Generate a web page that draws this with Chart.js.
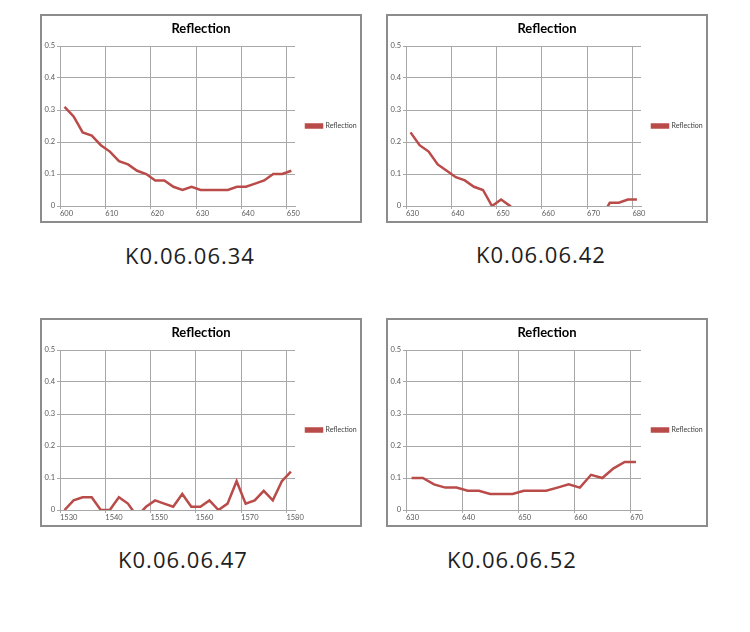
<!DOCTYPE html>
<html>
<head>
<meta charset="utf-8">
<script src="https://cdn.jsdelivr.net/npm/chart.js@4.4.1/dist/chart.umd.min.js"></script>
<style>
  body { margin: 0; background: #fff; width: 750px; height: 632px; position: relative; overflow: hidden; }
  .box { position: absolute; width: 322px; height: 209px; border: 2px solid #8c8c8c; box-sizing: border-box; background: #fff; }
  .box canvas { position: absolute; left: 0; top: 0; }
  .cap { position: absolute; width: 240px; text-align: center; font-family: "Open Sans", sans-serif;
         font-size: 22px; letter-spacing: 1px; line-height: 30px; color: #1e1e1e; }
</style>
</head>
<body>
<div class="box" style="left:40px; top:14px;"><canvas id="c34" width="318" height="205"></canvas></div>
<div class="box" style="left:386px; top:14px;"><canvas id="c42" width="318" height="205"></canvas></div>
<div class="box" style="left:40px; top:318px;"><canvas id="c47" width="318" height="205"></canvas></div>
<div class="box" style="left:386px; top:318px;"><canvas id="c52" width="318" height="205"></canvas></div>

<div class="cap" style="left:70px; top:240px;">K0.06.06.34</div>
<div class="cap" style="left:421px; top:239px;">K0.06.06.42</div>
<div class="cap" style="left:63px; top:544px;">K0.06.06.47</div>
<div class="cap" style="left:392px; top:544px;">K0.06.06.52</div>

<script>
// Wavelength (nm) and reflection values
const wl34 = [601, 603, 605, 607, 609, 611, 613, 615, 617, 619, 621, 623, 625, 627, 629, 631, 633, 635, 637, 639, 641, 643, 645, 647, 649, 651];
const refl34 = [0.31, 0.28, 0.23, 0.22, 0.19, 0.17, 0.14, 0.13, 0.11, 0.10, 0.08, 0.08, 0.06, 0.05, 0.06, 0.05, 0.05, 0.05, 0.05, 0.06, 0.06, 0.07, 0.08, 0.10, 0.10, 0.11];

const wl42 = [631, 633, 635, 637, 639, 641, 643, 645, 647, 649, 651, 653, 655, 657, 659, 661, 663, 665, 667, 669, 671, 673, 675, 677, 679, 681];
// values below 0 fall outside the plot and are clipped, as in the picture
const refl42 = [0.23, 0.19, 0.17, 0.13, 0.11, 0.09, 0.08, 0.06, 0.05, 0.00, 0.02, 0.00, -0.03, -0.05, -0.06, -0.07, -0.07, -0.06, -0.06, -0.05, -0.05, -0.04, 0.01, 0.01, 0.02, 0.02];

const wl47 = [1531, 1533, 1535, 1537, 1539, 1541, 1543, 1545, 1547, 1549, 1551, 1553, 1555, 1557, 1559, 1561, 1563, 1565, 1567, 1569, 1571, 1573, 1575, 1577, 1579, 1581];
const refl47 = [0.00, 0.03, 0.04, 0.04, 0.00, 0.00, 0.04, 0.02, -0.02, 0.01, 0.03, 0.02, 0.01, 0.05, 0.01, 0.01, 0.03, 0.00, 0.02, 0.09, 0.02, 0.03, 0.06, 0.03, 0.09, 0.12];

const wl52 = [631, 633, 635, 637, 639, 641, 643, 645, 647, 649, 651, 653, 655, 657, 659, 661, 663, 665, 667, 669, 671];
const refl52 = [0.10, 0.10, 0.08, 0.07, 0.07, 0.06, 0.06, 0.05, 0.05, 0.05, 0.06, 0.06, 0.06, 0.07, 0.08, 0.07, 0.11, 0.10, 0.13, 0.15, 0.15];

// x-axis ranges (Excel leaves a little room after the last label)
const xMin = { c34: 600, c42: 630, c47: 1530, c52: 630 };
const xMax = { c34: 651.8, c42: 681.9, c47: 1581.9, c52: 671.9 };
const yTicks = [0, 0.1, 0.2, 0.3, 0.4, 0.5];

const lineRed = '#b94b49';
const gridGrey = '#a8a8a8';
const labelFont = 'Lato, "Liberation Sans", sans-serif';

function drawChart(canvasId, wl, refl) {
    const ctx = document.getElementById(canvasId).getContext('2d');
    const points = wl.map((x, i) => ({ x: x, y: refl[i] }));

    new Chart(ctx, {
        type: 'line',
        data: {
            datasets: [{
                label: 'Reflection',
                data: points,
                borderColor: lineRed,
                backgroundColor: lineRed,
                borderWidth: 2.5,
                pointRadius: 0,
                tension: 0,
                fill: false
            }]
        },
        options: {
            responsive: false,
            animation: false,
            devicePixelRatio: 1,
            layout: { padding: 0 },
            scales: {
                x: {
                    type: 'linear',
                    min: xMin[canvasId],
                    max: xMax[canvasId],
                    afterFit: (scale) => { scale.height = 15; },
                    ticks: {
                        stepSize: 10,
                        includeBounds: false,
                        align: 'start',
                        padding: 0,
                        maxRotation: 0,
                        color: '#595959',
                        font: { family: labelFont, size: 7.5 },
                        callback: (v) => String(v)  // no thousands separator
                    },
                    grid: { color: gridGrey, lineWidth: 1, tickLength: 3 },
                    border: { color: gridGrey }
                },
                y: {
                    min: 0,
                    max: 0.5,
                    afterFit: (scale) => { scale.width = 18; },
                    afterBuildTicks: (scale) => { scale.ticks = yTicks.map(v => ({ value: v })); },
                    ticks: {
                        padding: 2,
                        color: '#595959',
                        font: { family: labelFont, size: 7.5 }
                    },
                    grid: { color: gridGrey, lineWidth: 1, tickLength: 3 },
                    border: { color: gridGrey }
                }
            },
            plugins: {
                title: {
                    display: true,
                    text: 'Reflection',
                    color: '#000',
                    font: { family: labelFont, size: 13, weight: 'bold' },
                    padding: { top: 5, bottom: 9.4 }
                },
                legend: {
                    display: true,
                    position: 'right',
                    fullSize: false,
                    maxWidth: 65,
                    labels: {
                        boxWidth: 16,
                        boxHeight: 3,
                        padding: 11,
                        color: '#404040',
                        font: { family: labelFont, size: 7 }
                    }
                },
                tooltip: { enabled: false }
            }
        }
    });
}

drawChart('c34', wl34, refl34);
drawChart('c42', wl42, refl42);
drawChart('c47', wl47, refl47);
drawChart('c52', wl52, refl52);
</script>
</body>
</html>
